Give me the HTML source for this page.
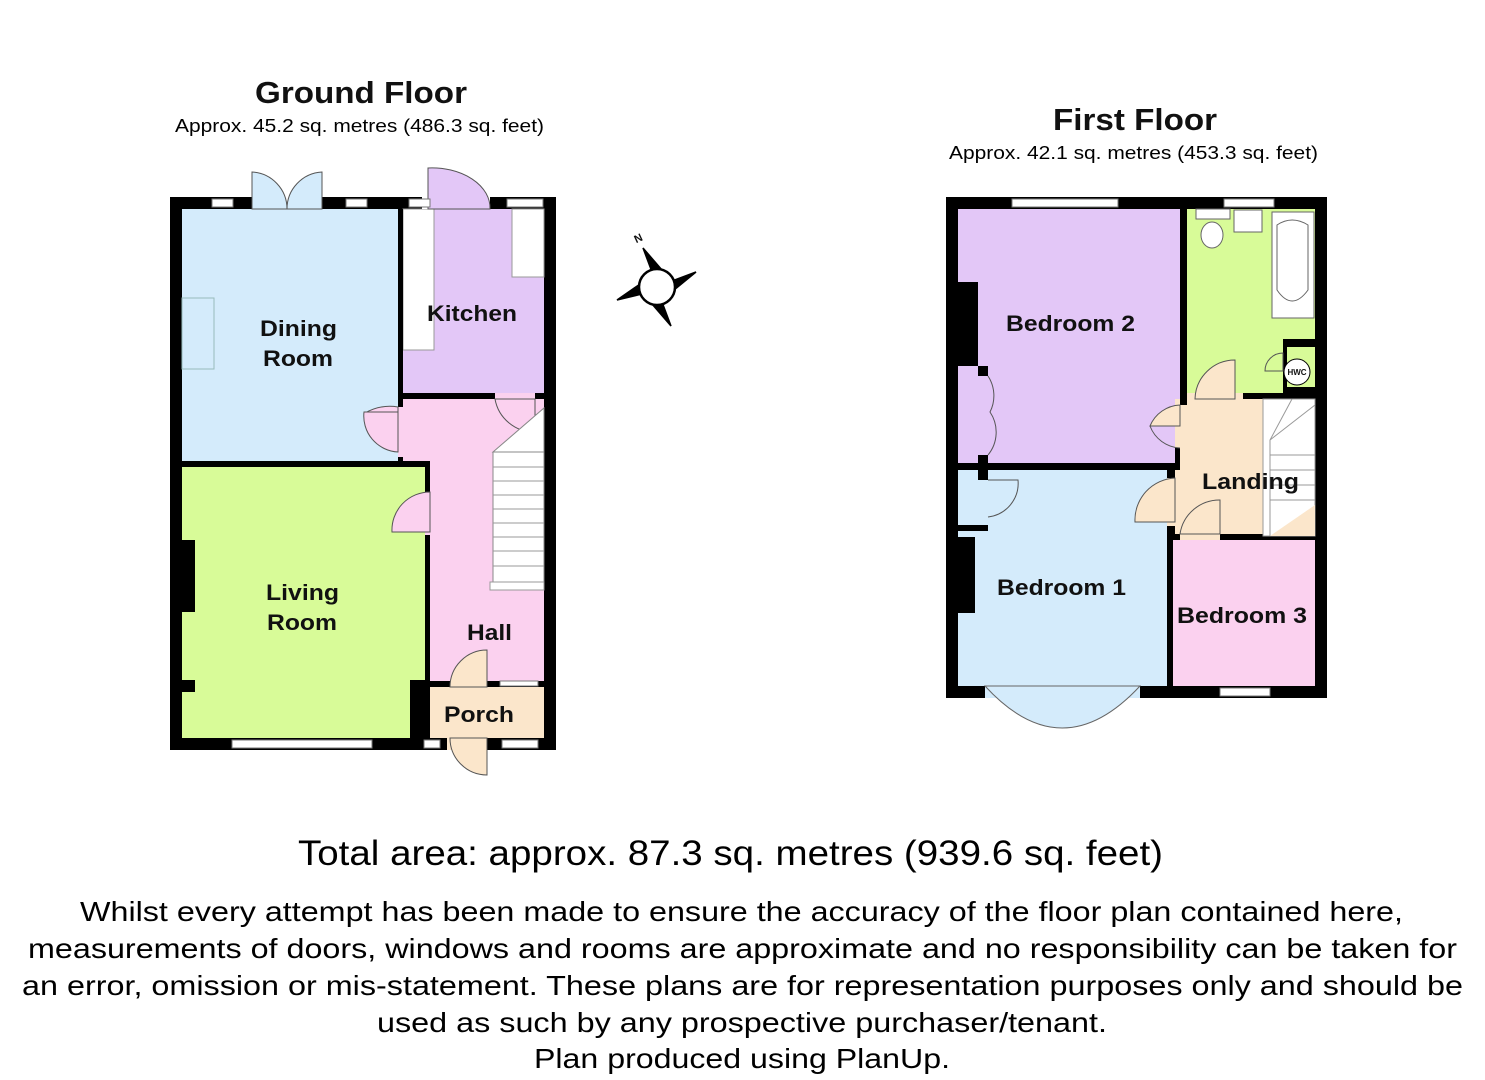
<!DOCTYPE html>
<html><head><meta charset="utf-8"><style>
html,body{margin:0;padding:0;background:#fff;width:1485px;height:1080px;overflow:hidden}
svg{display:block}
text{font-family:"Liberation Sans",Arial,sans-serif}
.b{font-weight:bold;fill:#111}
</style></head><body>
<svg width="1485" height="1080" viewBox="0 0 1485 1080">
<!-- titles -->
<text x="255" y="103" font-size="31" class="b" textLength="212" lengthAdjust="spacingAndGlyphs">Ground Floor</text>
<text x="175" y="132" font-size="18" textLength="369" lengthAdjust="spacingAndGlyphs">Approx. 45.2 sq. metres (486.3 sq. feet)</text>
<text x="1053" y="130" font-size="31" class="b" textLength="164" lengthAdjust="spacingAndGlyphs">First Floor</text>
<text x="949" y="159" font-size="18" textLength="369" lengthAdjust="spacingAndGlyphs">Approx. 42.1 sq. metres (453.3 sq. feet)</text>

<!-- GROUND FLOOR -->
<rect x="170" y="197" width="386" height="553" fill="#000"/>
<rect x="182" y="209" width="216" height="252" fill="#d4ebfb"/>
<rect x="403" y="209" width="141" height="184" fill="#e3c7f7"/>
<rect x="403" y="209" width="31" height="141" fill="#fff" stroke="#999" stroke-width="1"/>
<rect x="512" y="209" width="32" height="68" fill="#fff" stroke="#999" stroke-width="1"/>
<rect x="403" y="399" width="141" height="282" fill="#fbd1ef"/>
<rect x="182" y="467" width="243" height="271" fill="#d8fb98"/>
<rect x="415" y="687" width="129" height="51" fill="#fbe6cb"/>
<rect x="398" y="209" width="5" height="258" fill="#000"/>
<rect x="403" y="393" width="141" height="6" fill="#000"/>
<rect x="182" y="461" width="248" height="6" fill="#000"/>
<rect x="425" y="461" width="5" height="222" fill="#000"/>
<rect x="410" y="680" width="20" height="58" fill="#000"/>
<rect x="415" y="681" width="129" height="6" fill="#000"/>
<rect x="398" y="407" width="5" height="50" fill="#fbd1ef"/>
<path d="M398 407 A50 50 0 0 0 365 413 L398 413 Z" fill="#fbd1ef" stroke="#555" stroke-width="1"/>
<path d="M364 412 A36 36 0 0 0 398 452 L398 412 Z" fill="#fbd1ef" stroke="#555" stroke-width="1"/>
<rect x="425" y="492" width="5" height="43" fill="#fbd1ef"/>
<path d="M430 492 A38 38 0 0 0 392 532 L430 532 Z" fill="#fbd1ef" stroke="#555" stroke-width="1"/>
<rect x="495" y="393" width="40" height="6" fill="#fbd1ef"/>
<path d="M495 399 A40 40 0 0 0 535 432 L535 399 Z" fill="#fbd1ef" stroke="#555" stroke-width="1"/>
<rect x="493" y="452" width="51" height="130" fill="#fff" stroke="#888" stroke-width="1"/>
<g stroke="#999" stroke-width="1">
<line x1="493" y1="467" x2="544" y2="467"/><line x1="493" y1="481" x2="544" y2="481"/><line x1="493" y1="495" x2="544" y2="495"/><line x1="493" y1="509" x2="544" y2="509"/><line x1="493" y1="523" x2="544" y2="523"/><line x1="493" y1="537" x2="544" y2="537"/><line x1="493" y1="551" x2="544" y2="551"/><line x1="493" y1="566" x2="544" y2="566"/>
</g>
<path d="M493 452 L544 408 L544 452 Z" fill="#fff" stroke="#888"/>
<rect x="490" y="582" width="54" height="8" fill="#fff" stroke="#999"/>
<rect x="450" y="681" width="37" height="6" fill="#fbe6cb"/>
<path d="M450 687 A37 37 0 0 1 487 650 L487 687 Z" fill="#fbe6cb" stroke="#555"/>
<rect x="447" y="738" width="40" height="12" fill="#fbe6cb"/>
<path d="M450 738 A37 37 0 0 0 487 775 L487 738 Z" fill="#fbe6cb" stroke="#555"/>
<rect x="182" y="540" width="13" height="72" fill="#000"/>
<rect x="182" y="680" width="13" height="12" fill="#000"/>
<rect x="182" y="298" width="32" height="71" fill="none" stroke="#9bb" stroke-width="1"/>
<rect x="252" y="197" width="70" height="12" fill="#fff"/>
<path d="M252 209 L252 172 A37 37 0 0 1 287 209 Z" fill="#d4ebfb" stroke="#555"/>
<path d="M322 209 L322 172 A37 37 0 0 0 287 209 Z" fill="#d4ebfb" stroke="#555"/>
<rect x="422" y="197" width="68" height="12" fill="#fff"/>
<path d="M428 209 L428 168 A58 40 0 0 1 490 209 Z" fill="#e3c7f7" stroke="#555"/>
<g fill="#fff" stroke="#777" stroke-width="1">
<rect x="212" y="199" width="21" height="8"/><rect x="346" y="199" width="21" height="8"/><rect x="409" y="199" width="21" height="8"/><rect x="507" y="199" width="36" height="8"/>
<rect x="232" y="740" width="140" height="8"/><rect x="424" y="740" width="16" height="8"/><rect x="502" y="740" width="36" height="8"/><rect x="500" y="681" width="38" height="5"/>
</g>
<text x="260" y="336" font-size="22" class="b" textLength="77" lengthAdjust="spacingAndGlyphs">Dining</text>
<text x="263" y="366" font-size="22" class="b" textLength="70" lengthAdjust="spacingAndGlyphs">Room</text>
<text x="427" y="321" font-size="22" class="b" textLength="90" lengthAdjust="spacingAndGlyphs">Kitchen</text>
<text x="266" y="600" font-size="22" class="b" textLength="73" lengthAdjust="spacingAndGlyphs">Living</text>
<text x="267" y="630" font-size="22" class="b" textLength="70" lengthAdjust="spacingAndGlyphs">Room</text>
<text x="467" y="640" font-size="22" class="b" textLength="45" lengthAdjust="spacingAndGlyphs">Hall</text>
<text x="444" y="722" font-size="22" class="b" textLength="70" lengthAdjust="spacingAndGlyphs">Porch</text>

<!-- compass -->
<g stroke="#000" stroke-width="1.5">
<polygon points="643,248 662,270 652,272" fill="#000"/>
<polygon points="696,272 674,290 672,281" fill="#000"/>
<polygon points="671,326 652,304 662,302" fill="#000"/>
<polygon points="617,300 640,284 642,294" fill="#000"/>
<circle cx="657" cy="287" r="18" fill="#fff" stroke-width="2.5"/>
</g>
<text x="636" y="242" font-size="11" class="b" transform="rotate(-25 639 242)">N</text>

<!-- FIRST FLOOR -->
<rect x="946" y="197" width="381" height="501" fill="#000"/>
<rect x="958" y="209" width="222" height="254" fill="#e3c7f7"/>
<rect x="1187" y="209" width="128" height="184" fill="#d8fb98"/>
<rect x="1175" y="399" width="140" height="137" fill="#fbe6cb"/>
<rect x="1187" y="393" width="56" height="6" fill="#fbe6cb"/>
<rect x="958" y="470" width="209" height="216" fill="#d4ebfb"/>
<rect x="1173" y="540" width="142" height="146" fill="#fbd1ef"/>
<rect x="1180" y="209" width="7" height="196" fill="#000"/>
<rect x="1243" y="393" width="72" height="6" fill="#000"/>
<rect x="958" y="463" width="222" height="7" fill="#000"/>
<rect x="1175" y="448" width="5" height="22" fill="#000"/>
<rect x="1167" y="470" width="6" height="216" fill="#000"/>
<rect x="1167" y="534" width="148" height="6" fill="#000"/>
<rect x="1167" y="478" width="8" height="48" fill="#fbe6cb"/>
<path d="M1175 478 A42 42 0 0 0 1135 522 L1175 522 Z" fill="#fbe6cb" stroke="#555"/>
<rect x="1180" y="405" width="7" height="43" fill="#fbe6cb"/>
<path d="M1180 405 A34 34 0 0 0 1150 426 L1180 426 Z" fill="#fbe6cb" stroke="#555"/>
<path d="M1180 448 A34 34 0 0 1 1150 426" fill="none" stroke="#555"/>
<path d="M1195 399 A40 40 0 0 1 1235 360 L1235 399 Z" fill="#fbe6cb" stroke="#555"/>
<rect x="1180" y="534" width="40" height="6" fill="#fbe6cb"/>
<path d="M1180 534 A40 40 0 0 1 1220 500 L1220 534 Z" fill="#fbe6cb" stroke="#555"/>
<rect x="1263" y="399" width="52" height="137" fill="#fff" stroke="#999"/>
<g stroke="#999"><line x1="1270" y1="440" x2="1270" y2="536"/><line x1="1270" y1="440" x2="1315" y2="405"/><line x1="1270" y1="440" x2="1292" y2="399"/><line x1="1270" y1="455" x2="1315" y2="455"/><line x1="1270" y1="470" x2="1315" y2="470"/><line x1="1270" y1="485" x2="1315" y2="485"/><line x1="1270" y1="500" x2="1315" y2="500"/></g>
<path d="M1270 536 L1315 505 L1315 536 Z" fill="#fbe6cb"/>
<rect x="1283" y="339" width="32" height="54" fill="#000"/>
<rect x="1287" y="347" width="28" height="40" fill="#d8fb98"/>
<circle cx="1297" cy="372" r="13" fill="#fff" stroke="#000"/>
<text x="1297" y="375" font-size="8" class="b" text-anchor="middle">HWC</text>
<path d="M1283 353 A18 18 0 0 0 1265 371 L1283 371 Z" fill="none" stroke="#555"/>
<g fill="#fff" stroke="#666">
<rect x="1272" y="212" width="42" height="106"/><path d="M1277 225 Q1292 215 1308 225 L1308 290 Q1292 312 1277 290 Z"/>
<rect x="1234" y="210" width="28" height="22"/><rect x="1196" y="209" width="34" height="10"/><ellipse cx="1212" cy="235" rx="11" ry="13"/>
</g>
<rect x="958" y="282" width="20" height="84" fill="#000"/>
<rect x="978" y="366" width="10" height="10" fill="#000"/>
<rect x="978" y="455" width="10" height="15" fill="#000"/>
<path d="M988 376 A36 36 0 0 1 990 412 A36 36 0 0 1 988 455" fill="none" stroke="#555"/>
<rect x="978" y="470" width="10" height="10" fill="#000"/>
<rect x="958" y="525" width="30" height="6" fill="#000"/>
<path d="M988 480 L1018 480 A34 34 0 0 1 988 517" fill="none" stroke="#555"/>
<rect x="958" y="537" width="17" height="76" fill="#000"/>
<rect x="985" y="686" width="155" height="12" fill="#d4ebfb"/>
<path d="M985 686 Q1062 770 1140 686 Z" fill="#d4ebfb" stroke="#666"/>
<g fill="#fff" stroke="#777"><rect x="1012" y="199" width="106" height="8"/><rect x="1224" y="199" width="50" height="8"/><rect x="1220" y="688" width="50" height="8"/></g>
<text x="1006" y="331" font-size="22" class="b" textLength="129" lengthAdjust="spacingAndGlyphs">Bedroom 2</text>
<text x="1202" y="489" font-size="22" class="b" textLength="97" lengthAdjust="spacingAndGlyphs">Landing</text>
<text x="997" y="595" font-size="22" class="b" textLength="129" lengthAdjust="spacingAndGlyphs">Bedroom 1</text>
<text x="1177" y="623" font-size="22" class="b" textLength="130" lengthAdjust="spacingAndGlyphs">Bedroom 3</text>

<!-- footer -->
<text x="298" y="865" font-size="35" textLength="865" lengthAdjust="spacingAndGlyphs">Total area: approx. 87.3 sq. metres (939.6 sq. feet)</text>
<g font-size="28">
<text x="80" y="921" textLength="1323" lengthAdjust="spacingAndGlyphs">Whilst every attempt has been made to ensure the accuracy of the floor plan contained here,</text>
<text x="28" y="958" textLength="1429" lengthAdjust="spacingAndGlyphs">measurements of doors, windows and rooms are approximate and no responsibility can be taken for</text>
<text x="22" y="995" textLength="1441" lengthAdjust="spacingAndGlyphs">an error, omission or mis-statement. These plans are for representation purposes only and should be</text>
<text x="377" y="1032" textLength="730" lengthAdjust="spacingAndGlyphs">used as such by any prospective purchaser/tenant.</text>
<text x="534" y="1068" textLength="416" lengthAdjust="spacingAndGlyphs">Plan produced using PlanUp.</text>
</g>
</svg>
</body></html>
